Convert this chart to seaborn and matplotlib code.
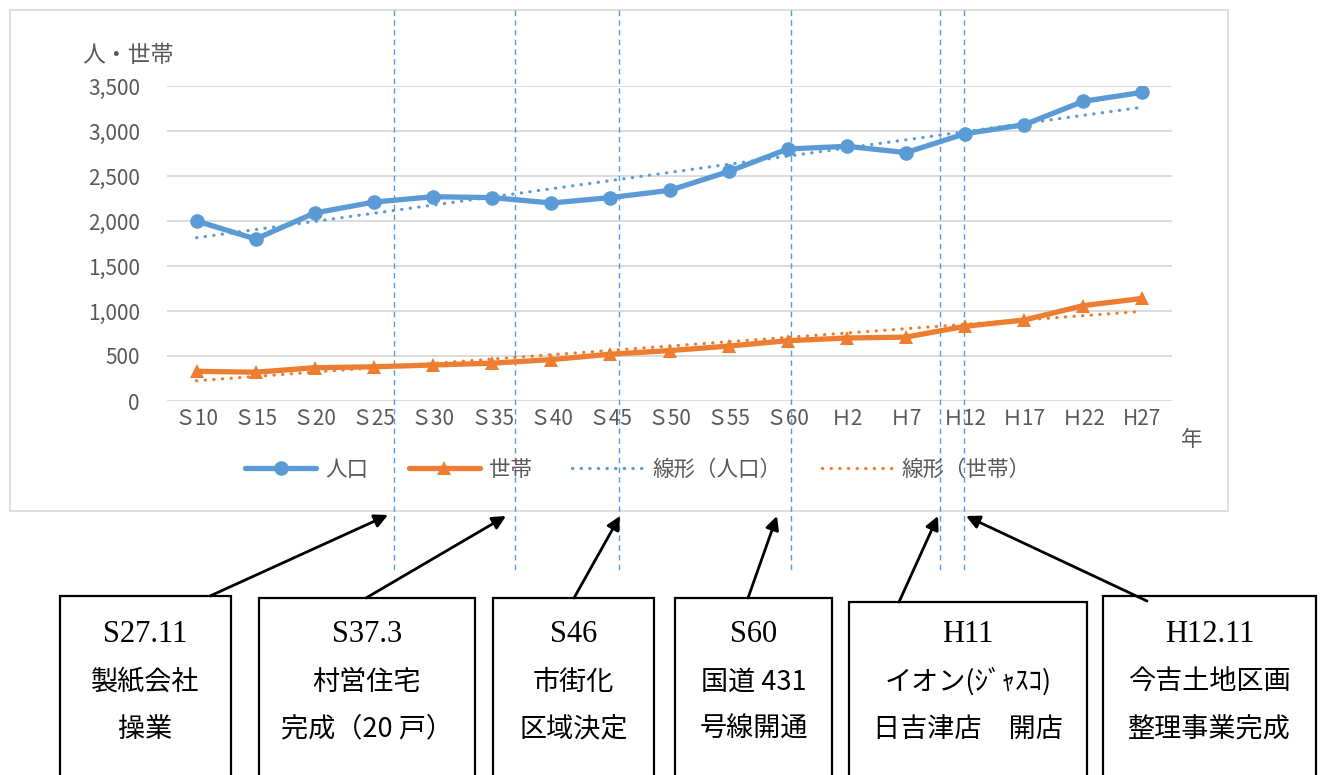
import numpy as np
import pandas as pd
import matplotlib
matplotlib.use("Agg")
import matplotlib.pyplot as plt
import seaborn as sns
from matplotlib.patches import Rectangle
from matplotlib import transforms
from matplotlib.ticker import FuncFormatter

# ---- data ----
years = ["Ｓ10", "Ｓ15", "Ｓ20", "Ｓ25", "Ｓ30", "Ｓ35", "Ｓ40", "Ｓ45", "Ｓ50", "Ｓ55",
         "Ｓ60", "Ｈ2", "Ｈ7", "Ｈ12", "Ｈ17", "Ｈ22", "H27"]
population = [2000, 1800, 2090, 2210, 2270, 2260, 2200, 2260, 2340, 2550,
              2800, 2830, 2760, 2970, 3070, 3330, 3430]
households = [330, 320, 370, 380, 400, 420, 460, 520, 560, 610,
              670, 700, 710, 830, 900, 1060, 1140]
series_names = ["人口", "世帯", "線形（人口）", "線形（世帯）"]
event_pos = [3.34, 5.39, 7.15, 10.05, 12.58, 12.98]
event_texts = [
    ["S27.11", "製紙会社", "操業"],
    ["S37.3", "村営住宅", "完成（20 戸）"],
    ["S46", "市街化", "区域決定"],
    ["S60", "国道 431", "号線開通"],
    ["H11", "イオン(ｼﾞｬｽｺ)", "日吉津店　開店"],
    ["H12.11", "今吉土地区画", "整理事業完成"],
]

sns.set_theme(style="white")
plt.rcParams['font.family'] = ['Noto Sans CJK JP', 'DejaVu Sans']

BLUE = "#5B9BD5"
ORANGE = "#ED7D31"
GRAY = "#595959"

W, H = 1322, 775
fig = plt.figure(figsize=(W / 100, H / 100), dpi=100)
fig.patch.set_facecolor("white")

def fx(px):
    return px / W

def fy(py):
    return 1 - py / H

ax = fig.add_axes([fx(167), fy(401), fx(1172) - fx(167), fy(86) - fy(401)])

idx = np.arange(len(years))
df = pd.DataFrame({"idx": idx, "pop": population, "hh": households})

# trend lines (linear regression)
pc = np.polyfit(idx, population, 1)
hc = np.polyfit(idx, households, 1)
pop_trend = np.polyval(pc, idx)
hh_trend = np.polyval(hc, idx)

sns.lineplot(data=df, x="idx", y="pop", ax=ax, color=BLUE, lw=3.8, marker="o",
             markersize=10.5, markeredgewidth=0, label=series_names[0], zorder=4)
sns.lineplot(data=df, x="idx", y="hh", ax=ax, color=ORANGE, lw=3.8, marker="^",
             markersize=10, markeredgewidth=0, label=series_names[1], zorder=4)
dot = (0, (0.1, 2.6))
ax.plot(idx, pop_trend, color=BLUE, lw=2.3, linestyle=dot,
        dash_capstyle="round", label=series_names[2], zorder=3)
ax.plot(idx, hh_trend, color=ORANGE, lw=2.3, linestyle=dot,
        dash_capstyle="round", label=series_names[3], zorder=3)

ax.set_xlim(-0.5, 16.5)
ax.set_ylim(0, 3500)
ax.set_yticks(np.arange(0, 3501, 500))
ax.yaxis.set_major_formatter(FuncFormatter(lambda v, p: f"{int(v):,}"))
ax.set_xticks(idx)
ax.set_xticklabels(years)
ax.tick_params(axis="both", labelsize=15, colors=GRAY, length=0)
ax.tick_params(axis="y", pad=19.5)
ax.tick_params(axis="x", pad=5)
ax.grid(axis="y", color="#D9D9D9", lw=1.3)
ax.set_axisbelow(True)
for s in ax.spines.values():
    s.set_visible(False)
ax.set_xlabel("")
ax.set_ylabel("")

fig.text(fx(82), fy(55), "人・世帯", fontsize=16.5, color=GRAY, ha="left", va="center")
fig.text(fx(1181), fy(440), "年", fontsize=15.5, color=GRAY, ha="left", va="center")

leg = ax.legend(loc="center", bbox_to_anchor=(fx(638), fy(470)),
                bbox_transform=fig.transFigure, ncol=4, frameon=False,
                fontsize=15.5, handlelength=3.3, columnspacing=1.9, handletextpad=0.4)
for t in leg.get_texts():
    t.set_color(GRAY)

# chart outer border
fig.add_artist(Rectangle((fx(10), fy(511)), fx(1228) - fx(10), fy(10) - fy(511),
                         transform=fig.transFigure, fill=False, edgecolor="#D9D9D9",
                         lw=1.2, zorder=0))

# vertical dashed event lines
trans = transforms.blended_transform_factory(ax.transData, fig.transFigure)
for xp in event_pos:
    ax.plot([xp, xp], [fy(10), fy(570)], transform=trans, color=BLUE, lw=1.0,
            linestyle=(0, (4, 3)), clip_on=False, zorder=2)

# annotation boxes
boxes = [(60, 596, 231), (259, 598, 475), (493, 598, 654), (675, 598, 832),
         (849, 602, 1087), (1103, 596, 1316)]
tails = [(210, 596), (366, 598), (574, 598), (748, 598), (899, 602), (1147, 601)]
heads = [(388, 515), (506, 516), (620, 516), (777, 516), (938, 516), (966, 516)]

for (x0, y0, x1), lines in zip(boxes, event_texts):
    fig.add_artist(Rectangle((fx(x0), fy(785)), fx(x1) - fx(x0), fy(y0) - fy(785),
                             transform=fig.transFigure, fill=False,
                             edgecolor="black", lw=1.6))
    cx = (x0 + x1) / 2
    fig.text(fx(cx), fy(634), lines[0], fontsize=22, ha="center", va="center",
             family=["Liberation Serif", "Noto Sans CJK JP"], color="black")
    fig.text(fx(cx), fy(682), lines[1], fontsize=19.5, ha="center", va="center",
             family=["Noto Sans CJK JP", "DejaVu Sans"], color="black")
    fig.text(fx(cx), fy(729), lines[2], fontsize=19.5, ha="center", va="center",
             family=["Noto Sans CJK JP", "DejaVu Sans"], color="black")

for (tx, ty), (hx, hy) in zip(tails, heads):
    ax.annotate("", xy=(hx, H - hy), xycoords="figure pixels",
                xytext=(tx, H - ty), textcoords="figure pixels",
                arrowprops=dict(arrowstyle="-|>", color="black", lw=2,
                                mutation_scale=20, shrinkA=0, shrinkB=0),
                annotation_clip=False)

fig.savefig("out.png", dpi=100, facecolor="white")
